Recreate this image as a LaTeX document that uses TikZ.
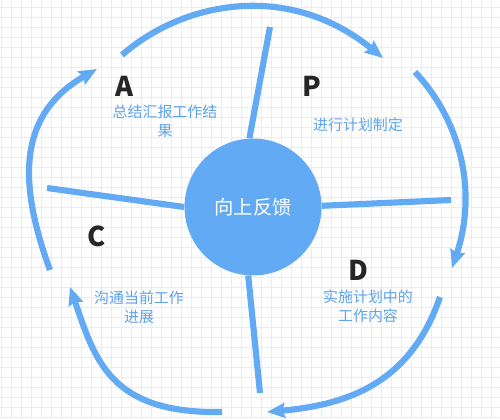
\documentclass[tikz,border=0pt]{standalone}
\usepackage{fontspec}
\setmainfont{Noto Sans CJK SC}
\usetikzlibrary{arrows.meta}

\definecolor{pdcablue}{HTML}{63AAF5}
\definecolor{pdcatext}{HTML}{5FA3EC}
\definecolor{pdcagrid}{HTML}{EBEBF1}

\begin{document}
\begin{tikzpicture}[
        x=0.02cm, y=-0.02cm,
        % Estilos
        hubnode/.style={circle, fill=pdcablue, minimum size=2.74cm, inner sep=0pt, text=white, font=\fontsize{11}{13}\selectfont},
        letterbox/.style={inner sep=0pt, text=black!85, font=\fontsize{15.5}{18}\selectfont\bfseries},
        labelbox/.style={inner sep=0pt, align=center, text=pdcatext, font=\fontsize{8.5}{10.8}\selectfont},
        spoke/.style={line width=3.5pt, draw=pdcablue},
        flow/.style={line width=3.5pt, draw=pdcablue, -{Stealth[length=0.36cm, width=0.3cm, inset=0.05cm]}},
        gridline/.style={draw=pdcagrid, line width=0.4pt}
    ]

    % Fundo quadriculado
    \useasboundingbox (0,0) rectangle (500,419);
    \fill[white] (0,0) rectangle (500,419);
    \foreach \gx in {1,11,...,491} {\draw[gridline] (\gx,0) -- (\gx,419);}
    \foreach \gy in {7,17,...,417} {\draw[gridline] (0,\gy) -- (500,\gy);}

    % 1. Centro
    \node (hub) [hubnode] at (253,207) {向上反馈};

    % 2. Letras e textos
    \node (letA) [letterbox] at (124,86) {A};
    \node (letP) [letterbox] at (312,86) {P};
    \node (letC) [letterbox] at (97,236) {C};
    \node (letD) [letterbox] at (358,270) {D};

    \node (txtA) [labelbox] at (165,121) {总结汇报工作结\\果};
    \node (txtP) [labelbox] at (358,125) {进行计划制定};
    \node (txtC) [labelbox] at (139,307) {沟通当前工作\\进展};
    \node (txtD) [labelbox] at (368,306) {实施计划中的\\工作内容};

    % 3. Raios
    \coordinate (spkN) at (270,27);
    \coordinate (spkW) at (47,188);
    \coordinate (spkE) at (451,200);
    \coordinate (spkS) at (260,393);
    \draw [spoke] (hub.93) -- (spkN);
    \draw [spoke] (hub.180) -- (spkW);
    \draw [spoke] (hub.1) -- (spkE);
    \draw [spoke] (hub.266) -- (spkS);

    % 4. Setas externas (ciclo)
    \coordinate (flowA) at (122,55);
    \coordinate (flowP) at (383,58);
    \coordinate (flowPb) at (415,72);
    \coordinate (flowD) at (452,268);
    \coordinate (flowDb) at (440,297);
    \coordinate (flowS) at (267,412);
    \coordinate (flowSb) at (222,412);
    \coordinate (flowC) at (70,287);
    \coordinate (flowCb) at (50,270);
    \coordinate (flowAb) at (97,69);

    \draw [flow] (flowA) .. controls (185,0) and (290,-18) .. (flowP);
    \draw [flow] (flowPb) .. controls (460,120) and (478,190) .. (flowD);
    \draw [flow] (flowDb) .. controls (410,385) and (345,405) .. (flowS);
    \draw [flow] (flowSb) .. controls (110,414) and (95,360) .. (flowC);
    \draw [flow] (flowCb) .. controls (15,175) and (22,112) .. (flowAb);

\end{tikzpicture}
\end{document}
